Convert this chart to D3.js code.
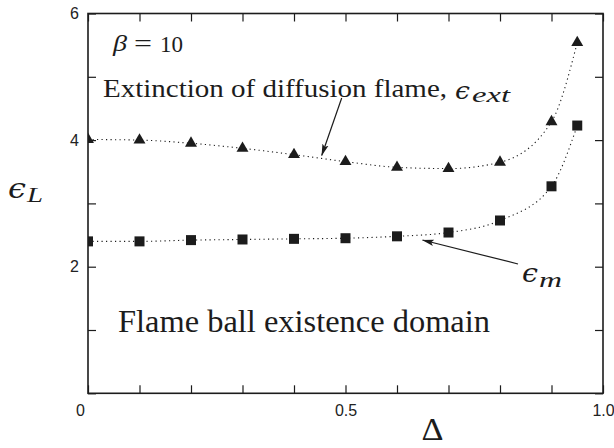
<!DOCTYPE html>
<html>
<head>
<meta charset="utf-8">
<script src="https://cdn.jsdelivr.net/npm/d3@7"></script>
<style>
  html, body { margin: 0; padding: 0; background: #fff; }
  svg { display: block; }
</style>
</head>
<body>
<svg id="chart" width="614" height="448"></svg>
<script>
// Δ values (heat-loss parameter) shared by both curves
const delta = [0, 0.1, 0.2, 0.3, 0.4, 0.5, 0.6, 0.7, 0.8, 0.9, 0.95];
// Extinction limit of the diffusion flame, ε_ext
const epsExt = [4.01, 4.00, 3.95, 3.87, 3.77, 3.66, 3.57, 3.55, 3.65, 4.29, 5.54];
// Lower bound ε_m
const epsM = [2.40, 2.40, 2.42, 2.43, 2.44, 2.45, 2.48, 2.54, 2.73, 3.27, 4.23];

const xTicks = d3.range(0, 11).map(i => i / 10);
const xTickLabels = { 0: "0", 0.5: "0.5", 1: "1.0" };
const yTicks = [0, 1, 2, 3, 4, 5, 6];
const yTickLabels = { 2: "2", 4: "4", 6: "6" };

const svg = d3.select("#chart");
const L = 88, R = 603, T = 13.5, B = 393.3;
const x = d3.scaleLinear().domain([0, 1]).range([L, R]);
const y = d3.scaleLinear().domain([0, 6]).range([B, T]);

const ink = "#1c1c1c";
const tickFont = "'Liberation Sans', Arial, sans-serif";
const serif = "'Liberation Serif', 'Times New Roman', serif";
const greek = "'DejaVu Serif', serif";

// clip for data marks
const defs = svg.append("defs");
defs.append("clipPath").attr("id", "plotClip")
  .append("rect").attr("x", L).attr("y", T).attr("width", R - L).attr("height", B - T);

defs.append("marker")
  .attr("id", "arrow").attr("viewBox", "0 0 12 8")
  .attr("refX", 11.5).attr("refY", 4)
  .attr("markerWidth", 12).attr("markerHeight", 8)
  .attr("markerUnits", "userSpaceOnUse")
  .attr("orient", "auto")
  .append("path").attr("d", "M0,0.8 L12,4 L0,7.2 L2.5,4 Z").attr("fill", ink);

// axes with inward ticks on all four sides
function styleAxis(g) {
  g.attr("font-size", null).attr("font-family", null);
  g.select(".domain").remove();
  g.selectAll(".tick line").attr("stroke", ink).attr("stroke-width", 1.2);
  g.selectAll(".tick text").attr("fill", "#222")
    .style("font-family", tickFont).style("font-size", "16px");
}
const axBottom = svg.append("g").attr("transform", `translate(0,${B})`)
  .call(d3.axisBottom(x).tickValues(xTicks).tickSizeInner(-8).tickSizeOuter(0).tickPadding(11)
    .tickFormat(d => xTickLabels[Math.round(d * 10) / 10] || ""));
styleAxis(axBottom);
axBottom.selectAll(".tick text").filter(d => d === 0).attr("dx", -8);

const axTop = svg.append("g").attr("transform", `translate(0,${T})`)
  .call(d3.axisTop(x).tickValues(xTicks).tickSizeInner(-8).tickSizeOuter(0).tickFormat(""));
styleAxis(axTop);

const axLeft = svg.append("g").attr("transform", `translate(${L},0)`)
  .call(d3.axisLeft(y).tickValues(yTicks).tickSizeInner(-8).tickSizeOuter(0).tickPadding(9)
    .tickFormat(d => yTickLabels[d] || ""));
styleAxis(axLeft);

const axRight = svg.append("g").attr("transform", `translate(${R},0)`)
  .call(d3.axisRight(y).tickValues(yTicks).tickSizeInner(-8).tickSizeOuter(0).tickFormat(""));
styleAxis(axRight);

// frame
svg.append("rect").attr("x", L).attr("y", T).attr("width", R - L).attr("height", B - T)
  .attr("fill", "none").attr("stroke", ink).attr("stroke-width", 1.6);

// curves
const plot = svg.append("g").attr("clip-path", "url(#plotClip)");
const line = d3.line().x(d => x(d[0])).y(d => y(d[1])).curve(d3.curveMonotoneX);
const extPts = delta.map((d, i) => [d, epsExt[i]]);
const mPts = delta.map((d, i) => [d, epsM[i]]);

[extPts, mPts].forEach(pts => {
  plot.append("path").datum(pts).attr("d", line)
    .attr("fill", "none").attr("stroke", ink).attr("stroke-width", 1.1)
    .attr("stroke-dasharray", "1.2,3.3").attr("stroke-linecap", "butt");
});

const tri = d3.symbol().type(d3.symbolTriangle).size(62);
plot.selectAll(".tri").data(extPts).enter().append("path")
  .attr("transform", d => `translate(${x(d[0])},${y(d[1])})`)
  .attr("d", tri).attr("fill", ink);

plot.selectAll(".sq").data(mPts).enter().append("rect")
  .attr("x", d => x(d[0]) - 5).attr("y", d => y(d[1]) - 5)
  .attr("width", 10).attr("height", 10).attr("fill", ink);

// text helpers
function txt(xp, yp, s, size, opts = {}) {
  const t = svg.append("text").attr("x", xp).attr("y", yp).text(s)
    .attr("font-family", opts.family || serif).attr("font-size", size).attr("fill", ink);
  if (opts.italic) t.attr("font-style", "italic");
  if (opts.width) t.attr("textLength", opts.width).attr("lengthAdjust", "spacingAndGlyphs");
  if (opts.anchor) t.attr("text-anchor", opts.anchor);
  return t;
}

// β = 10
txt(113, 51, "β", 24, { italic: true, width: 14 });
txt(134, 51, "=", 24, { width: 18 });
txt(160, 51.5, "10", 24, { width: 23 });

// extinction label
txt(103, 96.5, "Extinction of diffusion flame,", 26, { width: 344 });
txt(455, 99, "ϵ", 24, { italic: true, width: 15, family: greek });
txt(472, 102, "ext", 21, { italic: true, width: 38 });

// domain label
txt(118, 332, "Flame ball existence domain", 32, { width: 372 });

// ε_m label
txt(522, 282, "ϵ", 26, { italic: true, width: 16, family: greek });
txt(539, 287, "m", 22, { italic: true, width: 23 });

// axis titles
txt(8, 198, "ϵ", 27, { italic: true, width: 18, family: greek });
txt(27, 202, "L", 22, { italic: true, width: 16 });
txt(432.5, 440, "Δ", 31, { anchor: "middle", width: 22 });

// annotation arrows
svg.append("line").attr("x1", 341.7).attr("y1", 98).attr("x2", 321.7).attr("y2", 155.5)
  .attr("stroke", ink).attr("stroke-width", 1.2).attr("marker-end", "url(#arrow)");
svg.append("line").attr("x1", 518).attr("y1", 264).attr("x2", 422.5).attr("y2", 240)
  .attr("stroke", ink).attr("stroke-width", 1.2).attr("marker-end", "url(#arrow)");
</script>
</body>
</html>
